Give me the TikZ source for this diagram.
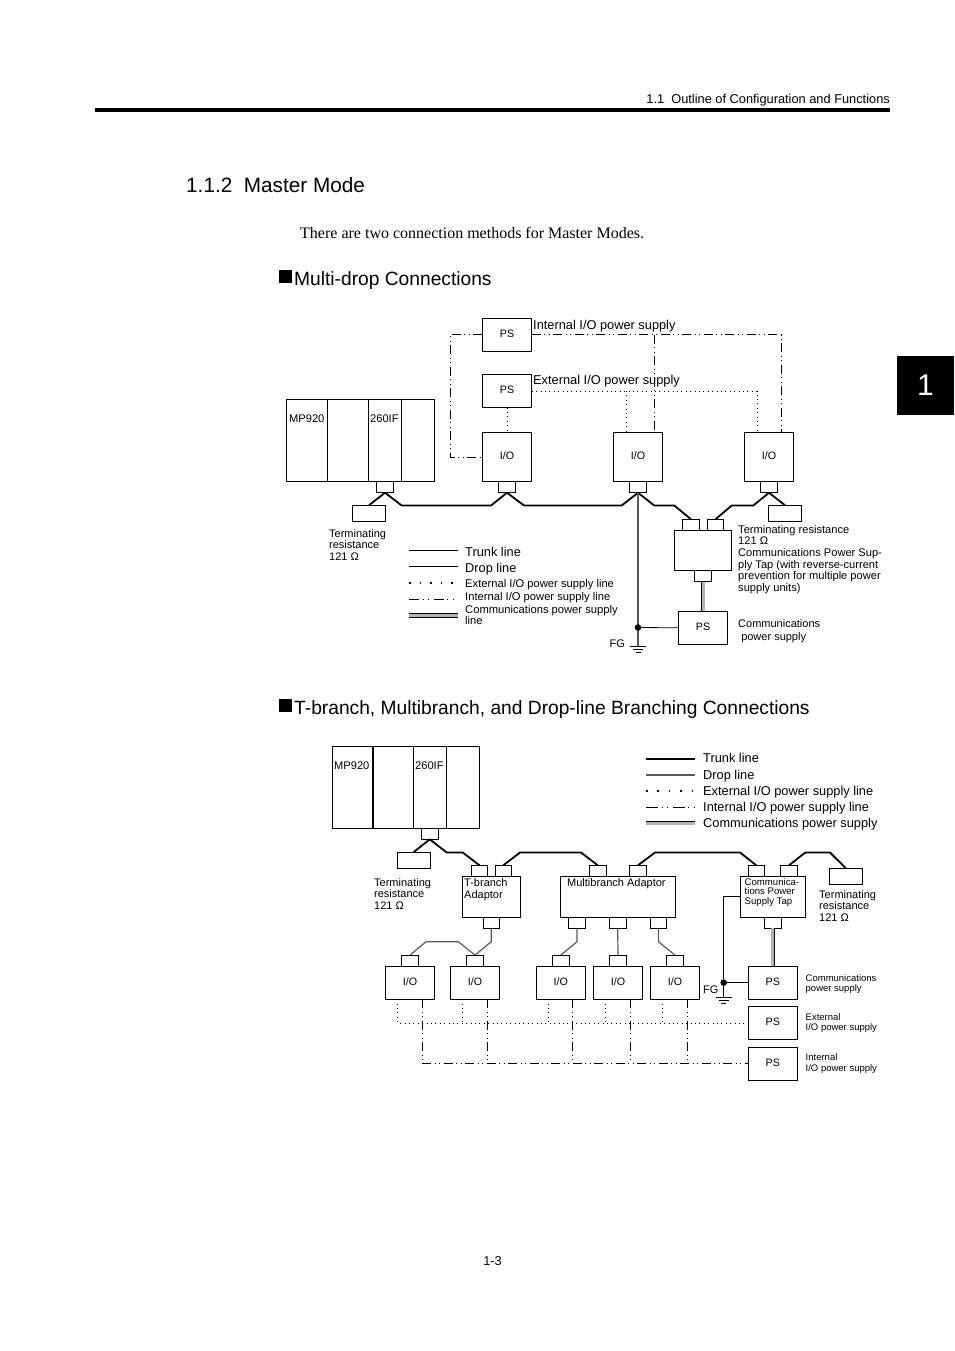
\documentclass[tikz,border=0pt]{standalone}
\usepackage{fontspec}
\setmainfont{Liberation Sans}
\newfontfamily\bodyface{Liberation Serif}
\newcommand{\fs}[2]{\fontsize{#1}{#2}\selectfont}
\tikzset{
  box/.style={draw, line width=0.9pt, inner sep=0pt, outer sep=0pt, text height=8pt, text depth=3pt, font=\fs{10.7}{12}},
  psbox/.style={box, minimum width=49.5pt, minimum height=33pt},
  iobox/.style={box, minimum width=49.5pt, minimum height=49.5pt},
  iosmall/.style={box, minimum width=49.5pt, minimum height=33pt},
  conn/.style={box, minimum width=16.5pt, minimum height=8.2pt},
  termbox/.style={box, minimum width=33pt, minimum height=16.5pt},
  txt/.style={anchor=north west, inner sep=0pt, align=left},
  lbl/.style={anchor=base west, inner sep=0pt},
  trunk/.style={line width=1.8pt, line join=round},
  drop/.style={line width=1.2pt, black!65, line join=round},
  extline/.style={line width=1pt, dash pattern=on 1pt off 3.4pt},
  intline/.style={line width=1pt, dash pattern=on 9pt off 3.5pt on 1pt off 3.5pt on 1pt off 3.5pt},
  commline/.style={draw=black, line width=0.8pt, double=black!30, double distance=3pt},
}
\begin{document}
\begin{tikzpicture}[x=1pt, y=-1pt]
  \useasboundingbox (0,0) rectangle (954,1351);
  % page furniture
  \node[anchor=base east, inner sep=0pt, font=\fs{12.8}{14}] (head) at (890,104) {1.1\ \ Outline of Configuration and Functions};
  \node[fill=black, inner sep=0pt, minimum width=795pt, minimum height=4pt] (headrule) at (492.5,110) {};
  \node[lbl, font=\fs{20.75}{24}] (title) at (186,193) {1.1.2\ \ Master Mode};
  \node[lbl, font=\bodyface\fs{16}{18}] (intro) at (300,238.5) {There are two connection methods for Master Modes.};
  \node[fill=black, inner sep=0pt, minimum size=13pt] (sqa) at (285,276.5) {};
  \node[lbl, font=\fs{19.2}{22}] (heada) at (294,285) {Multi-drop Connections};
  \node[fill=black, inner sep=0pt, minimum size=13pt] (sqb) at (285,705.5) {};
  \node[lbl, font=\fs{19.2}{22}] (headb) at (294,714) {T-branch, Multibranch, and Drop-line Branching Connections};
  \node[fill=black, text=white, inner sep=0pt, minimum width=57pt, minimum height=59pt, font=\fs{30}{32}] (tab) at (925.5,385.5) {1};
  \node[font=\fs{12.8}{14}, inner sep=0pt] (pageno) at (492.5,1261) {1-3};

  % multi-drop connections
  \node[psbox] (psint) at (507,334.5) {PS};
  \node[psbox] (psext) at (507,391) {PS};
  \node[iobox] (ioa) at (507,457) {I/O};
  \node[iobox] (iob) at (638,457) {I/O};
  \node[iobox] (ioc) at (769,457) {I/O};
  \node[box, minimum width=41pt, minimum height=82.4pt] (rka) at (307,440.5) {};
  \node[box, minimum width=41pt, minimum height=82.4pt] (rkb) at (348,440.5) {};
  \node[box, minimum width=33pt, minimum height=82.4pt] (rkc) at (385,440.5) {};
  \node[box, minimum width=33pt, minimum height=82.4pt] (rkd) at (418,440.5) {};
  \node[lbl, font=\fs{11.1}{12}] (mpa) at (289,422) {MP920};
  \node[lbl, font=\fs{11.1}{12}] (ifa) at (370,422) {260IF};
  \node[conn, anchor=north] (cra) at (rkc.south) {};
  \node[conn, anchor=north] (cia) at (ioa.south) {};
  \node[conn, anchor=north] (cib) at (iob.south) {};
  \node[conn, anchor=north] (cic) at (ioc.south) {};
  \node[termbox] (tma) at (369,513.5) {};
  \node[termbox] (tmb) at (785,513.5) {};
  \node[box, minimum width=57pt, minimum height=40.4pt] (tapa) at (703,550.5) {};
  \node[conn, anchor=south] (cta) at (691,530.3) {};
  \node[conn, anchor=south] (ctb) at (715.5,530.3) {};
  \node[conn, anchor=north] (ctc) at (tapa.south) {};
  \node[psbox] (pscom) at (703,627.8) {PS};
  \coordinate (dota) at (638,627.5);
  \coordinate (gnda) at (638,646.5);
  \coordinate (brint) at (654,334.5);
  \coordinate (brext) at (626,391);

  \draw[trunk] (tma.north) -- (cra.south) -- (401.7,505.5) -- (491,505.5) -- (cia.south) -- (524,505.5) -- (621.7,505.5) -- (cib.south) -- (654.3,505.5) -- (674.3,505.5) -- (cta.north);
  \draw[trunk] (ctb.north) -- (731.7,505.5) -- (753.3,505.5) -- (cic.south) -- (tmb.north);
  \draw[drop] (cib.south) -- (gnda);
  \draw[line width=0.8pt] (dota) -- (pscom.west);
  \fill (dota) circle (3.3pt);
  \draw[commline] (ctc.south) -- (pscom.north);
  \draw[line width=0.8pt] (630,646.7) -- (646,646.7) (633,649.5) -- (643,649.5) (635.5,652.3) -- (640.5,652.3);
  \draw[intline] (psint.east) -- (781,334.5) -- (781,432);
  \draw[intline] (psint.west) -- (450,334.5) -- (450,457) -- (ioa.west);
  \draw[intline] (brint) -- (654,432);
  \draw[extline] (psext.east) -- (757,391) -- (757,432);
  \draw[extline] (brext) -- (626,432);
  \draw[extline] (psext.south) -- (ioa.north);

  \node[lbl, font=\fs{12.8}{14}] (lia) at (533,329) {Internal I/O power supply};
  \node[lbl, font=\fs{12.8}{14}] (lea) at (533,384) {External I/O power supply};
  \node[txt, font=\fs{11}{11.7}] (lta) at (329,529) {Terminating\\resistance\\121 Ω};
  \node[txt, font=\fs{11.1}{11.6}] (ltb) at (738,525) {Terminating resistance\\121 Ω\\Communications Power Sup-\\ply Tap (with reverse-current\\prevention for multiple power\\supply units)};
  \node[txt, font=\fs{11}{13}] (lcp) at (738,619.5) {Communications\\\ power supply};
  \node[lbl, font=\fs{11}{12}] (fga) at (609.5,647) {FG};

  % legend of the first figure
  \coordinate (la) at (409,550); \coordinate (lb) at (409,566.7); \coordinate (lc) at (409,583); \coordinate (ld) at (409,599); \coordinate (le) at (409,615.5);
  \draw[line width=0.8pt] (la) -- ++(49,0);
  \draw[line width=1.3pt] (lb) -- ++(49,0);
  \draw[line width=1.3pt, dash pattern=on 1.5pt off 9.1pt] (lc) -- ++(49,0);
  \draw[line width=1pt, dash pattern=on 10pt off 3.5pt on 1pt off 4.5pt on 1pt off 4.5pt] (ld) -- ++(49,0);
  \draw[commline] (le) -- ++(49,0);
  \node[lbl, font=\fs{12.8}{14}] (lga) at (465,556) {Trunk line};
  \node[lbl, font=\fs{12.8}{14}] (lgb) at (465,572) {Drop line};
  \node[lbl, font=\fs{11.2}{12}] (lgc) at (465,587.5) {External I/O power supply line};
  \node[lbl, font=\fs{11.2}{12}] (lgd) at (465,600.5) {Internal I/O power supply line};
  \node[txt, font=\fs{11.2}{11.2}] (lge) at (465,604.8) {Communications power supply\\line};

  % t-branch and multibranch connections
  \node[box, minimum width=41pt, minimum height=82pt] (rke) at (352.7,787.3) {};
  \node[box, minimum width=41pt, minimum height=82pt] (rkf) at (393.2,787.3) {};
  \node[box, minimum width=33pt, minimum height=82pt] (rkg) at (429.8,787.3) {};
  \node[box, minimum width=33pt, minimum height=82pt] (rkh) at (463,787.3) {};
  \node[lbl, font=\fs{11.1}{12}] (mpb) at (334,769) {MP920};
  \node[lbl, font=\fs{11.1}{12}] (ifb) at (415,769) {260IF};
  \node[conn, anchor=north] (crb) at (rkg.south) {};
  \node[termbox] (tmc) at (413.8,860.2) {};
  \node[box, minimum width=57.7pt, minimum height=41pt] (tbr) at (491.2,896.8) {};
  \node[conn, anchor=south] (tba) at (479.5,876.3) {};
  \node[conn, anchor=south] (tbb) at (503.3,876.3) {};
  \node[conn, anchor=north] (tbc) at (tbr.south) {};
  \node[box, minimum width=114.7pt, minimum height=41pt] (mbr) at (617.7,896.8) {};
  \node[conn, anchor=south] (mba) at (597.7,876.3) {};
  \node[conn, anchor=south] (mbb) at (638,876.3) {};
  \node[conn, anchor=north] (mbc) at (577,917.3) {};
  \node[conn, anchor=north] (mbd) at (617.7,917.3) {};
  \node[conn, anchor=north] (mbe) at (658.5,917.3) {};
  \node[box, minimum width=65pt, minimum height=41pt] (ctp) at (772.8,896.8) {};
  \node[conn, anchor=south] (cpa) at (756.3,876.3) {};
  \node[conn, anchor=south] (cpb) at (789,876.3) {};
  \node[conn, anchor=north] (cpc) at (ctp.south) {};
  \node[termbox] (tmd) at (845.8,876.5) {};
  \node[iosmall] (iod) at (410,982.6) {I/O};
  \node[iosmall] (ioe) at (475,982.6) {I/O};
  \node[iosmall] (iof) at (560.7,982.6) {I/O};
  \node[iosmall] (iog) at (618,982.6) {I/O};
  \node[iosmall] (ioh) at (675,982.6) {I/O};
  \node[conn, anchor=south] (cid) at (iod.north) {};
  \node[conn, anchor=south] (cie) at (ioe.north) {};
  \node[conn, anchor=south] (cif) at (iof.north) {};
  \node[conn, anchor=south] (cig) at (iog.north) {};
  \node[conn, anchor=south] (cih) at (ioh.north) {};
  \node[psbox] (psb) at (772.8,982.6) {PS};
  \node[psbox] (psc) at (772.8,1023) {PS};
  \node[psbox] (psd) at (772.8,1063.6) {PS};
  \coordinate (dotb) at (723.7,982.6);
  \coordinate (gndb) at (723.7,997);

  \draw[trunk] (tmc.north) -- (crb.south) -- (446.7,852.5) -- (462.7,852.5) -- (tba.north);
  \draw[trunk] (tbb.north) -- (520,852.5) -- (581,852.5) -- (mba.north);
  \draw[trunk] (mbb.north) -- (655,852.5) -- (740,852.5) -- (cpa.north);
  \draw[trunk] (cpb.north) -- (805.3,852.5) -- (830,852.5) -- (tmd.north);
  \draw[drop] (tbc.south) -- (491.2,941.7) -- (cie.north);
  \draw[drop] (cid.north) -- (426,941.7) -- (458.3,941.7) -- (cie.north);
  \draw[drop] (mbc.south) -- (577,941.7) -- (cif.north);
  \draw[drop] (mbd.south) -- (cig.north);
  \draw[drop] (mbe.south) -- (658.5,941.7) -- (cih.north);
  \draw[commline] (cpc.south) -- (psb.north);
  \draw[line width=1.2pt] (ctp.west) -- (723.7,896.8) -- (gndb);
  \draw[line width=0.8pt] (dotb) -- (psb.west);
  \fill (dotb) circle (3.3pt);
  \draw[line width=0.8pt] (715.7,997) -- (732,997) (718.7,1000) -- (728.7,1000) (721.2,1003) -- (726.2,1003);
  \draw[extline] ([xshift=-12.3pt]iod.south) |- (psc.west);
  \draw[extline] ([xshift=-12.7pt]ioe.south) -- ++(0,23.9);
  \draw[extline] ([xshift=-12.4pt]iof.south) -- ++(0,23.9);
  \draw[extline] ([xshift=-12.3pt]iog.south) -- ++(0,23.9);
  \draw[extline] ([xshift=-12.3pt]ioh.south) -- ++(0,23.9);
  \draw[intline] ([xshift=12pt]iod.south) |- (psd.west);
  \draw[intline] ([xshift=12pt]ioe.south) -- ++(0,64.5);
  \draw[intline] ([xshift=12pt]iof.south) -- ++(0,64.5);
  \draw[intline] ([xshift=12pt]iog.south) -- ++(0,64.5);
  \draw[intline] ([xshift=12pt]ioh.south) -- ++(0,64.5);

  \node[txt, font=\fs{11}{11.8}] (ltc) at (374,878) {Terminating\\resistance\\121 Ω};
  \node[txt, font=\fs{11}{12}] (ltr) at (464,878) {T-branch\\Adaptor};
  \node[lbl, font=\fs{11}{12}] (lmb) at (567,886) {Multibranch Adaptor};
  \node[txt, font=\fs{9.6}{9.6}] (lct) at (744.5,878) {Communica-\\tions Power\\Supply Tap};
  \node[txt, font=\fs{11}{11.5}] (ltd) at (819,890) {Terminating\\resistance\\121 Ω};
  \node[lbl, font=\fs{11}{12}] (fgb) at (703,993) {FG};
  \node[txt, font=\fs{9.5}{10.4}] (lpa) at (805.5,974) {Communications\\power supply};
  \node[txt, font=\fs{9.5}{10.4}] (lpb) at (805.5,1013) {External\\I/O power supply};
  \node[txt, font=\fs{9.5}{10.9}] (lpc) at (805.5,1053.5) {Internal\\I/O power supply};

  % legend of the second figure
  \coordinate (lf) at (646,759); \coordinate (lg) at (646,775); \coordinate (lh) at (646,791); \coordinate (li) at (646,807); \coordinate (lj) at (646,823);
  \draw[line width=1.8pt] (lf) -- ++(49,0);
  \draw[line width=1.2pt, black!65] (lg) -- ++(49,0);
  \draw[line width=1.3pt, dash pattern=on 1.5pt off 9.9pt] (lh) -- ++(49,0);
  \draw[line width=1pt, dash pattern=on 12pt off 3.5pt on 1pt off 4.5pt on 1pt off 4.5pt] (li) -- ++(49,0);
  \draw[commline] (lj) -- ++(49,0);
  \node[lbl, font=\fs{12.8}{14}] (lgf) at (703,762) {Trunk line};
  \node[lbl, font=\fs{12.8}{14}] (lgg) at (703,779) {Drop line};
  \node[lbl, font=\fs{12.8}{14}] (lgh) at (703,795) {External I/O power supply line};
  \node[lbl, font=\fs{12.8}{14}] (lgi) at (703,811) {Internal I/O power supply line};
  \node[lbl, font=\fs{12.8}{14}] (lgj) at (703,827) {Communications power supply};
\end{tikzpicture}
\end{document}
